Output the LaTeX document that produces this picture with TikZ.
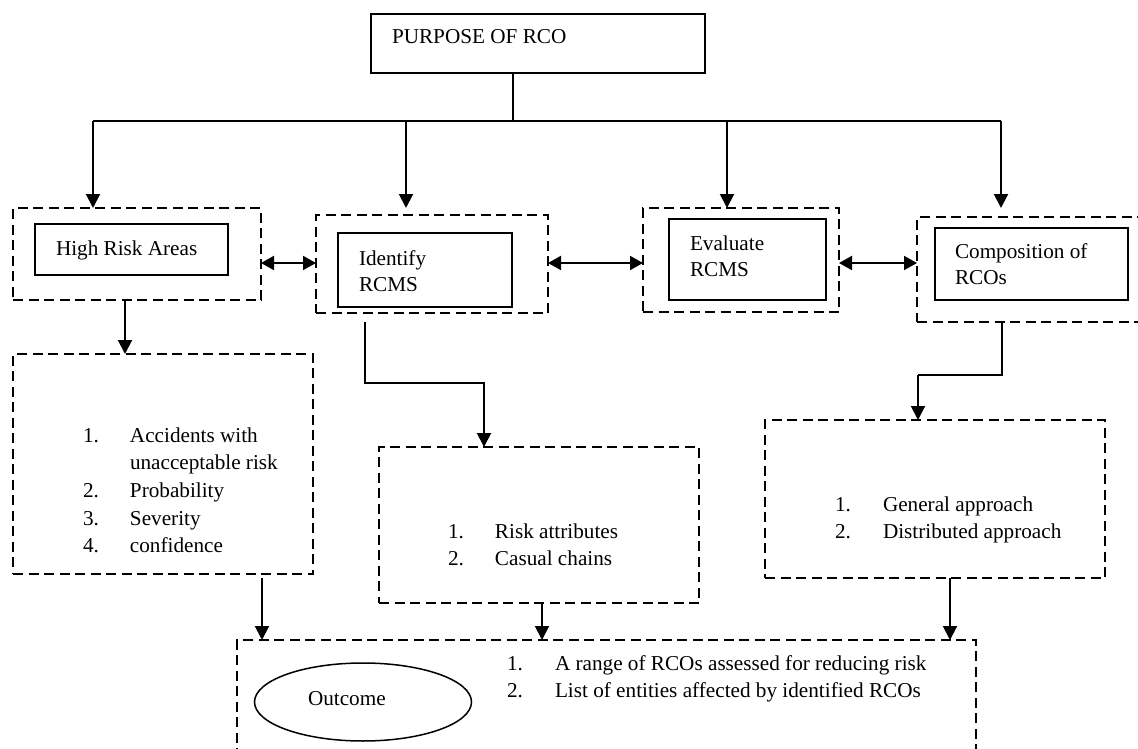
\documentclass[tikz,border=0pt]{standalone}
\usepackage{fontspec}
\setmainfont{Liberation Serif}
\usetikzlibrary{arrows.meta,shapes.geometric}
\begin{document}
\begin{tikzpicture}[x=1pt,y=-1pt,
  every node/.style={inner sep=0pt, outer sep=0pt},
  txt/.style={font=\fontsize{21.2}{27.7}\selectfont, anchor=base west},
  pair/.style={font=\fontsize{21.2}{26.5}\selectfont, anchor=base west},
  solidbox/.style={draw, line width=1.5pt},
  dashbox/.style={draw, line width=2.3pt, dash pattern=on 10pt off 5.5pt},
  link/.style={line width=1.4pt},
  arr/.style={line width=2pt, -{Triangle[length=14pt,width=14pt]}},
  dbl/.style={line width=2pt, {Triangle[length=13pt,width=14pt]}-{Triangle[length=13pt,width=14pt]}},
]
\useasboundingbox (0,0) rectangle (1138,749);
\clip (0,0) rectangle (1138,749);

% title box
\node[solidbox, minimum width=334pt, minimum height=59pt] (top) at (538,43.5) {};
\node[txt] (t-top) at (392,44) {PURPOSE OF RCO};

% upper row: dashed frames with solid boxes inside
\node[dashbox, minimum width=248pt, minimum height=92pt] (hra) at (137,254) {};
\node[solidbox, minimum width=193pt, minimum height=51pt] (hra-in) at (131.5,249.5) {};
\node[txt] (t-hra) at (56,255) {High Risk Areas};

\node[dashbox, minimum width=232pt, minimum height=98pt] (idf) at (432,264) {};
\node[solidbox, minimum width=174pt, minimum height=74pt] (idf-in) at (425,270) {};
\node[pair] (t-idf) at (359,265) {\begin{tabular}[t]{@{}l@{}}Identify\\RCMS\end{tabular}};

\node[dashbox, minimum width=196pt, minimum height=104pt] (evl) at (741,260) {};
\node[solidbox, minimum width=157pt, minimum height=81pt] (evl-in) at (747.5,259.5) {};
\node[pair] (t-evl) at (690,250) {\begin{tabular}[t]{@{}l@{}}Evaluate\\RCMS\end{tabular}};

\node[dashbox, minimum width=233pt, minimum height=105pt] (cmp) at (1033.5,269.5) {};
\node[solidbox, minimum width=193pt, minimum height=72pt] (cmp-in) at (1031.5,264) {};
\node[pair] (t-cmp) at (955,258) {\begin{tabular}[t]{@{}l@{}}Composition of\\RCOs\end{tabular}};

% lists
\node[dashbox, minimum width=300pt, minimum height=220pt] (ll) at (163,464) {};
\node[txt] (t-ll) at (83,442) {\begin{tabular}[t]{@{}p{47pt}@{}l@{}}1.&Accidents with\\&unacceptable risk\\2.&Probability\\3.&Severity\\4.&confidence\end{tabular}};

\node[dashbox, minimum width=320pt, minimum height=156pt] (ml) at (539,525) {};
\node[txt] (t-ml) at (448,538) {\begin{tabular}[t]{@{}p{47pt}@{}l@{}}1.&Risk attributes\\2.&Casual chains\end{tabular}};

\node[dashbox, minimum width=340pt, minimum height=158pt] (rl) at (935,499) {};
\node[txt] (t-rl) at (835,511) {\begin{tabular}[t]{@{}p{48pt}@{}l@{}}1.&General approach\\2.&Distributed approach\end{tabular}};

% outcome
\node[dashbox, minimum width=739pt, minimum height=150pt] (out) at (606.5,715) {};
\node[draw, ellipse, line width=1.5pt, minimum width=217pt, minimum height=78pt] (oval) at (363,702) {};
\node[txt] (t-oval) at (308,705) {Outcome};
\node[txt] (t-out) at (507,670) {\begin{tabular}[t]{@{}p{48pt}@{}l@{}}1.&A range of RCOs assessed for reducing risk\\2.&List of entities affected by identified RCOs\end{tabular}};

% distribution bus from the title box
\coordinate (bus) at (513,121);
\coordinate (b1) at (93,121);
\coordinate (b2) at (406,121);
\coordinate (b3) at (727,121);
\coordinate (b4) at (1001,121);
\draw[link] (top.south -| bus) -- (bus);
\draw[link] (b1) -- (b4);
\draw[arr] (b1) -- (b1 |- hra.north);
\draw[arr, shorten >=7pt] (b2) -- (b2 |- idf.north);
\draw[arr] (b3) -- (b3 |- evl.north);
\draw[arr, shorten >=9pt] (b4) -- (b4 |- cmp.north);

% links between neighbouring frames
\coordinate (row) at (0,263);
\draw[dbl] (hra.east |- row) -- (idf.west |- row);
\draw[dbl] (idf.east |- row) -- (evl.west |- row);
\draw[dbl] (evl.east |- row) -- (cmp.west |- row);

% frames down to their lists
\draw[arr] ([xshift=-12pt]hra.south) -- ([xshift=-12pt]hra.south |- ll.north);
\coordinate (k1) at (365,383);
\coordinate (k2) at (484,383);
\draw[arr, shorten <=9pt] (idf.south -| k1) -- (k1) -- (k2) -- (k2 |- ml.north);
\coordinate (k3) at (1002,375);
\coordinate (k4) at (918,375);
\draw[link] (cmp.south -| k3) -- (k3) -- (k4);
\draw[arr] (k4) -- (k4 |- rl.north);

% lists down to the outcome
\draw[arr, shorten <=4pt] ([xshift=99pt]ll.south) -- ([xshift=99pt]ll.south |- out.north);
\draw[arr] ([xshift=3pt]ml.south) -- ([xshift=3pt]ml.south |- out.north);
\draw[arr] ([xshift=15pt]rl.south) -- ([xshift=15pt]rl.south |- out.north);
\end{tikzpicture}
\end{document}
